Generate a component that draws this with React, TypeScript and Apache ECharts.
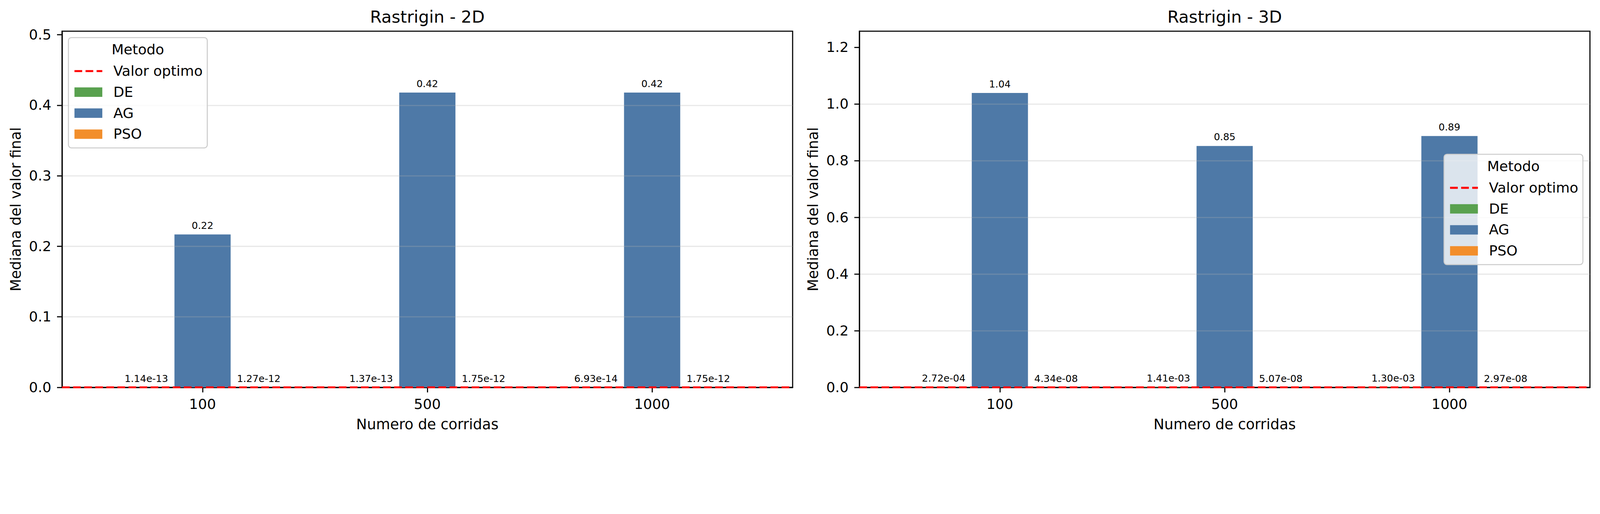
import React, { useEffect, useRef, useState } from "react";
import * as echarts from "echarts";

// ---- data ----
const categories = ["100", "500", "1000"];
const methods = ["DE", "AG", "PSO"];
const panelTitles = ["Rastrigin - 2D", "Rastrigin - 3D"];
const de2D = [1.14e-13, 1.37e-13, 6.93e-14];
const ag2D = [0.2168, 0.418, 0.418];
const pso2D = [1.27e-12, 1.75e-12, 1.75e-12];
const de3D = [2.72e-4, 1.41e-3, 1.3e-3];
const ag3D = [1.039, 0.852, 0.887];
const pso3D = [4.34e-8, 5.07e-8, 2.97e-8];
const optimumValue = 0;
const yTicks2D = [0, 0.1, 0.2, 0.3, 0.4, 0.5];
const yTicks3D = [0, 0.2, 0.4, 0.6, 0.8, 1.0, 1.2];
const yMax2D = 0.505;
const yMax3D = 1.257;

// ---- styles ----
const FONT = "DejaVu Sans";
const W = 4770;
const H = 1316;
const colors: Record<string, string> = { DE: "#59a14f", AG: "#4e79a7", PSO: "#f28e2b" };
const X_MIN = -0.625;
const X_MAX = 2.625;
const GRID_TOP = 93;
const GRID_H = 1062;
const GRID_W = 2178;
const GRID_LEFTS = [185, 2562];
const BAR_W = (0.25 * GRID_W) / (X_MAX - X_MIN);
const LEGEND_Z = 100;

function fmtLabel(v: number): string {
  if (Math.abs(v) >= 0.01) return v.toFixed(2);
  const [m, e] = v.toExponential(2).split("e");
  const n = parseInt(e, 10);
  const a = Math.abs(n);
  return `${m}e${n < 0 ? "-" : "+"}${a < 10 ? "0" + a : a}`;
}

function legendGraphic(left: number, top: number) {
  const w = 414;
  const h = 329;
  const rowY = [100, 162.7, 225.3, 288];
  const txt = (text: string, x: number, y: number, align: string) => ({
    type: "text",
    x,
    y,
    z: LEGEND_Z + 2,
    style: {
      text,
      fontSize: 42,
      fontFamily: FONT,
      fill: "#000",
      align,
      verticalAlign: "middle",
    },
  });
  const children: any[] = [
    {
      type: "rect",
      z: LEGEND_Z,
      shape: { x: 0, y: 0, width: w, height: h, r: 9 },
      style: { fill: "rgba(255,255,255,0.8)", stroke: "#cccccc", lineWidth: 3 },
    },
    txt("Metodo", w / 2, 36, "center"),
    {
      type: "line",
      z: LEGEND_Z + 1,
      shape: { x1: 18, y1: rowY[0], x2: 101, y2: rowY[0] },
      style: { stroke: "#ff0000", lineWidth: 6, lineDash: [23, 10] },
    },
    txt("Valor optimo", 134, rowY[0], "left"),
  ];
  methods.forEach((m, i) => {
    children.push({
      type: "rect",
      z: LEGEND_Z + 1,
      shape: { x: 18, y: rowY[i + 1] - 14, width: 83, height: 28 },
      style: { fill: colors[m] },
    });
    children.push(txt(m, 134, rowY[i + 1], "left"));
  });
  return { type: "group", x: left, y: top, z: LEGEND_Z, children };
}

export default function App() {
  const ref = useRef<HTMLDivElement>(null);
  const [scale, setScale] = useState(() =>
    Math.min(window.innerWidth / W, window.innerHeight / H)
  );

  useEffect(() => {
    const onResize = () => setScale(Math.min(window.innerWidth / W, window.innerHeight / H));
    window.addEventListener("resize", onResize);
    return () => window.removeEventListener("resize", onResize);
  }, []);

  useEffect(() => {
    if (!ref.current) return;
    const chart = echarts.init(ref.current, undefined, { renderer: "svg" });

    const panels = [
      { de: de2D, ag: ag2D, pso: pso2D, ticks: yTicks2D, max: yMax2D, interval: 0.1 },
      { de: de3D, ag: ag3D, pso: pso3D, ticks: yTicks3D, max: yMax3D, interval: 0.2 },
    ];

    const grid = GRID_LEFTS.map((left) => ({
      left,
      top: GRID_TOP,
      width: GRID_W,
      height: GRID_H,
      show: true,
      borderColor: "#000",
      borderWidth: 3.3,
      backgroundColor: "transparent",
    }));

    const catIdx = categories.map((_, i) => i);

    const xAxis = panels.map((_, p) => ({
      type: "value",
      gridIndex: p,
      min: X_MIN,
      max: X_MAX,
      name: "Numero de corridas",
      nameLocation: "middle",
      nameGap: 89,
      nameTextStyle: { fontSize: 43, fontFamily: FONT, color: "#000", lineHeight: 43 },
      axisLine: { show: true, onZero: false, lineStyle: { color: "#000", width: 3.3 } },
      axisTick: {
        show: true,
        inside: false,
        length: 15,
        customValues: catIdx,
        lineStyle: { color: "#000", width: 3.3 },
      },
      axisLabel: {
        show: true,
        customValues: catIdx,
        margin: 29,
        fontSize: 42,
        fontFamily: FONT,
        color: "#000",
        formatter: (v: number) => categories[Math.round(v)] ?? "",
      },
      splitLine: { show: false },
    }));

    const yAxis = panels.map((pn, p) => ({
      type: "value",
      gridIndex: p,
      min: 0,
      max: pn.max,
      interval: pn.interval,
      z: 3,
      name: "Mediana del valor final",
      nameLocation: "middle",
      nameGap: 116,
      nameTextStyle: { fontSize: 43, fontFamily: FONT, color: "#000", lineHeight: 43 },
      axisLine: { show: true, onZero: false, lineStyle: { color: "#000", width: 3.3 } },
      axisTick: {
        show: true,
        inside: false,
        length: 15,
        customValues: pn.ticks,
        lineStyle: { color: "#000", width: 3.3 },
      },
      axisLabel: {
        show: true,
        customValues: pn.ticks,
        margin: 32,
        fontSize: 42,
        fontFamily: FONT,
        color: "#000",
        formatter: (v: number) => v.toFixed(1),
      },
      splitLine: {
        show: true,
        showMinLine: false,
        showMaxLine: false,
        lineStyle: { color: "rgba(176,176,176,0.3)", width: 3.3 },
      },
    }));

    const series: any[] = [];
    panels.forEach((pn, p) => {
      const vals: Record<string, number[]> = { DE: pn.de, AG: pn.ag, PSO: pn.pso };
      methods.forEach((m) => {
        series.push({
          type: "bar",
          name: m,
          xAxisIndex: p,
          yAxisIndex: p,
          barWidth: BAR_W,
          barGap: "0%",
          itemStyle: { color: colors[m] },
          z: 2,
          label: {
            show: true,
            position: "top",
            distance: 12,
            fontSize: 29,
            fontFamily: FONT,
            color: "#000",
            formatter: (prm: any) => fmtLabel(prm.value[1]),
          },
          data: vals[m].map((v, i) => [i, v]),
        });
      });
      series.push({
        type: "line",
        name: "Valor optimo",
        xAxisIndex: p,
        yAxisIndex: p,
        symbol: "none",
        z: 5,
        lineStyle: { color: "#ff0000", width: 6, type: [23, 10] },
        data: [
          [X_MIN, optimumValue],
          [X_MAX, optimumValue],
        ],
      });
    });

    const title = panelTitles.map((t, p) => ({
      text: t,
      left: GRID_LEFTS[p] + GRID_W / 2,
      top: 25,
      textAlign: "center",
      padding: 0,
      textStyle: { fontSize: 50, fontWeight: "normal", fontFamily: FONT, color: "#000", lineHeight: 50 },
    }));

    chart.setOption({
      animation: false,
      backgroundColor: "#fff",
      textStyle: { fontFamily: FONT },
      title,
      grid,
      xAxis,
      yAxis,
      series,
      graphic: [legendGraphic(204, 112), legendGraphic(4305, 460)],
    });

    return () => chart.dispose();
  }, []);

  return (
    <div
      style={{
        position: "fixed",
        left: 0,
        top: 0,
        width: W * scale,
        height: H * scale,
        overflow: "hidden",
        background: "#fff",
      }}
    >
      <div
        ref={ref}
        style={{
          width: W,
          height: H,
          transform: `scale(${scale})`,
          transformOrigin: "0 0",
        }}
      />
    </div>
  );
}
